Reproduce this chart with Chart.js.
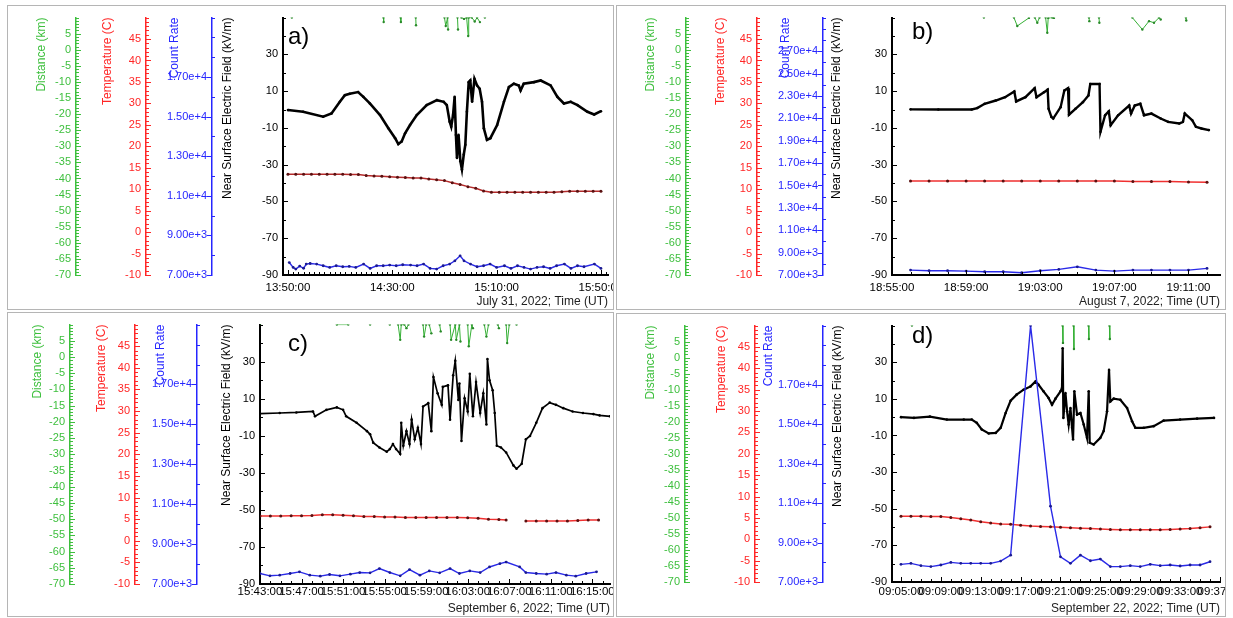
<!DOCTYPE html>
<html>
<head>
<meta charset="utf-8">
<script src="https://cdn.jsdelivr.net/npm/chart.js@4.4.1/dist/chart.umd.min.js"></script>
<style>
  html, body { margin: 0; padding: 0; background: #fff; }
  body { width: 1233px; height: 618px; position: relative; overflow: hidden; }
  .panel { position: absolute; box-sizing: border-box; border: 1px solid #b5b5b5; overflow: hidden; background: #fff; }
  .panel canvas { position: absolute; left: 0; top: 0; }
</style>
</head>
<body>
<div class="panel" style="left:7px;top:5px;width:607px;height:305px"><canvas id="chartA" width="640" height="303"></canvas></div>
<div class="panel" style="left:616px;top:5px;width:610px;height:305px"><canvas id="chartB" width="640" height="303"></canvas></div>
<div class="panel" style="left:7px;top:312px;width:607px;height:305px"><canvas id="chartC" width="640" height="303"></canvas></div>
<div class="panel" style="left:616px;top:313px;width:610px;height:304px"><canvas id="chartD" width="640" height="302"></canvas></div>
<script>
// --- time axes: start of each record, caption, tick positions (minutes after start) ---
const aStart = '13:50:00', bStart = '18:55:00', cStart = '15:43:00', dStart = '09:05:00';
const aDate = 'July 31, 2022; Time (UT)';
const bDate = 'August 7, 2022; Time (UT)';
const cDate = 'September 6, 2022; Time (UT)';
const dDate = 'September 22, 2022; Time (UT)';
const aXTicks = [0, 40, 80, 120];
const bXTicks = [0, 4, 8, 12, 16];
const cXTicks = [0, 4, 8, 12, 16, 20, 24, 28, 32];
const dXTicks = [0, 4, 8, 12, 16, 20, 24, 28, 32];

// --- labelled ticks of the four y axes ---
const fieldTicks = [-90, -70, -50, -30, -10, 10, 30];
const distTicks = [-70, -65, -60, -55, -50, -45, -40, -35, -30, -25, -20, -15, -10, -5, 0, 5];
const tempTicks = [-10, -5, 0, 5, 10, 15, 20, 25, 30, 35, 40, 45];
const countTicks = [7000, 9000, 11000, 13000, 15000, 17000];
const countTicksB = [7000, 9000, 11000, 13000, 15000, 17000, 19000, 21000, 23000, 25000, 27000];

// --- series: [minutes after start, value] ---
// a) July 31
const aField = [[0,-0.3],[5.8,-1.2],[13.5,-3.9],[16.7,-2.1],[19.9,4.2],[21.8,7.8],[23.7,8.6],[26.9,9.5],[28.9,6.9],[31.4,3.3],[35.3,-3],[38.5,-10.2],[41.1,-15.6],[42.3,-18.8],[43.6,-17.4],[44.9,-12.9],[46.8,-8.4],[49.4,-3],[53.2,2.4],[57.1,5.1],[59.7,4.2],[60.9,2.4],[62,-6.6],[62.6,-9.3],[63.3,-3],[63.9,6.9],[64.4,-13.8],[64.8,-26.3],[65.4,-13.8],[66.1,-28.1],[66.7,-32.6],[67.4,-24.5],[68,-19.2],[68.6,-1.2],[69.3,14.9],[69.9,15.8],[70.6,4.2],[71.5,16.7],[72.5,13.1],[73.5,11.3],[74.4,4.2],[75.1,-10.2],[76.3,-16.5],[77.6,-15.6],[80.2,-8.4],[82.8,4.2],[84.7,12.2],[86.6,14],[88.5,13.1],[89.2,10.4],[90.4,14],[94.3,14.9],[96.9,15.8],[100.7,13.1],[103.3,6.9],[105.8,3.3],[108.4,4.2],[111,2.4],[114.8,-1.2],[117.4,-2.7],[120,-0.9]];
const aTemp = [[0,13.5],[3,13.5],[6,13.5],[9,13.5],[12,13.5],[15,13.5],[18,13.5],[21,13.5],[24,13.4],[27,13.4],[30,13.2],[33,13.1],[36,13.0],[39,12.9],[42,12.8],[45,12.7],[48,12.6],[51,12.6],[54,12.4],[57,12.2],[60,12.0],[63,11.5],[66,11.1],[69,10.6],[72,10.2],[75,9.6],[78,9.3],[81,9.3],[84,9.3],[87,9.3],[90,9.3],[93,9.3],[96,9.3],[99,9.3],[102,9.3],[105,9.4],[108,9.5],[111,9.5],[114,9.5],[117,9.5],[120,9.5]];
const aCount = [[0.5,7630],[2,7383],[3,7300],[4.5,7450],[6,7340],[7,7550],[8.5,7580],[11,7550],[13.5,7467],[16,7383],[18.5,7467],[21,7417],[23.5,7433],[26,7383],[29,7550],[31.5,7333],[34,7467],[36.5,7467],[39,7500],[41.5,7467],[44,7517],[47,7500],[49.5,7467],[52,7550],[54.5,7333],[57,7300],[59.5,7467],[62,7550],[64,7717],[66,7967],[67.5,7717],[70,7550],[72.5,7417],[75,7467],[77.5,7550],[80,7383],[83,7467],[85.5,7333],[88,7467],[90.5,7383],[93,7300],[95.5,7383],[98,7417],[100.5,7333],[103,7467],[106,7550],[108.5,7333],[111,7467],[113.5,7417],[117.5,7550],[120,7333]];
const aDist = [[1.5,10],[1.6,null],[36.6,10],[36.7,8.6],[36.8,null],[43.2,10],[43.3,8.6],[43.4,null],[49.0,10],[49.1,7.6],[49.2,null],[60.0,10],[60.5,7.4],[61.2,10],[61.4,6.3],[61.5,null],[65.0,10],[65.2,6.3],[65.3,null],[66.5,10],[67.5,9.6],[68.5,10],[69.1,4.3],[69.3,10],[70.5,10],[71.6,8.8],[72.5,10],[73.6,8.6],[73.7,null],[75.5,10]];

// b) August 7
const bField = [[1.0,0.1],[2.5,0],[4.3,0],[4.6,0.8],[5.0,3.1],[5.6,4.9],[6.1,6.7],[6.6,9.8],[6.7,4.4],[7.2,6.7],[7.7,11.6],[7.8,6.7],[8.2,9.4],[8.4,10.8],[8.45,0.4],[8.6,-4],[8.7,-4.9],[9.1,1.3],[9.3,10.3],[9.5,11.6],[9.55,-2.8],[9.9,0.4],[10.3,4],[10.6,7.6],[10.7,13.9],[11.2,13.9],[11.25,-12.1],[11.5,-3.1],[11.7,-1],[11.8,-8.5],[12.2,-3.1],[12.8,2.2],[12.9,-2.2],[13.1,2.2],[13.4,3.1],[13.6,-3.1],[14.0,-2.2],[14.5,-4.9],[14.9,-6.7],[15.5,-7.6],[15.7,-6.7],[15.8,-2.2],[16.2,-5.8],[16.4,-9.4],[16.7,-10.3],[17.1,-11.2]];
const bTemp = [[1,11.9],[2,11.9],[3,11.9],[4,11.9],[5,11.9],[6,11.9],[7,11.9],[8,11.9],[9,11.9],[10,11.9],[11,11.9],[12,11.9],[13,11.8],[14,11.8],[15,11.8],[16,11.7],[17,11.6]];
const bCount = [[1,7440],[2,7380],[3,7380],[4,7350],[5,7290],[6,7290],[7,7200],[8,7380],[9,7500],[10,7730],[11,7440],[12,7350],[13,7440],[14,7440],[15,7440],[16,7440],[17,7590]];
const bDist = [[4.96,10],[5.0,null],[6.58,10],[6.76,7.4],[7.39,9.9],[7.4,null],[7.71,10],[7.84,8.4],[7.96,10],[8.0,null],[8.29,10],[8.38,5.3],[8.43,9.9],[8.65,10],[8.74,9.9],[8.8,null],[10.63,10],[10.65,8.9],[10.7,null],[11.17,10],[11.19,8.4],[11.2,null],[12.97,10],[13.51,6.3],[13.87,8.9],[14.14,8.4],[14.41,10],[14.5,9.4],[14.55,null],[15.86,10],[15.88,9.1]];

// c) September 6
const cField = [[0,1.9],[1.9,2.3],[3.5,2.6],[5.1,3.1],[5.3,0.5],[6.4,4.0],[7.4,5.3],[8.0,4.0],[8.3,0.5],[9.3,-3.0],[10.3,-7.5],[10.6,-9.2],[10.9,-13.7],[11.5,-16.3],[12.2,-18.6],[12.5,-17.2],[12.8,-14.5],[13.1,-17.2],[13.5,-19.8],[13.6,-3.0],[13.8,-15.4],[14.1,-7.5],[14.4,-14.5],[14.6,-1.3],[14.9,-11.9],[15.2,-5.7],[15.5,-14.5],[15.7,5.8],[16.2,7.6],[16.5,-7.5],[16.7,21.7],[17.1,12.9],[17.5,6.7],[17.6,16.4],[18.1,17.3],[18.3,-1.3],[18.6,22.6],[18.8,30.5],[19.1,9.3],[19.2,18.2],[19.4,-12.8],[19.7,10.2],[20.0,3.1],[20.2,23.5],[20.5,0.5],[20.8,19.0],[21.2,2.3],[21.5,12.9],[21.8,-3.9],[21.9,31.4],[22.1,19.9],[22.4,14.6],[22.6,2.3],[22.8,-15.4],[23.2,-16.3],[23.7,-19.0],[24.4,-26.0],[24.7,-27.8],[25.2,-25.1],[25.6,-11.9],[26.0,-10.1],[26.6,-3.0],[27.2,4.9],[27.9,7.9],[28.5,6.7],[29.2,4.9],[30.1,3.1],[31.1,2.3],[32.1,1.7],[32.7,1.0],[33.7,0.5]];
const cTemp = [[0,5.75],[1,5.75],[2,5.75],[3,5.8],[4,5.8],[5,5.85],[6,6.0],[7,6.0],[8,5.9],[9,5.8],[10,5.6],[11,5.6],[12,5.5],[13,5.5],[14,5.4],[15,5.4],[16,5.4],[17,5.4],[18,5.4],[19,5.4],[20,5.3],[21,5.2],[22,5.0],[23,4.9],[23.7,4.8],[24.5,null],[25.6,4.6],[26.6,4.6],[27.6,4.6],[28.6,4.6],[29.6,4.6],[30.6,4.7],[31.6,4.8],[32.6,4.8]];
const cCount = [[0,7525],[0.96,7410],[1.9,7443],[2.9,7525],[3.8,7608],[4.8,7443],[5.8,7394],[6.7,7476],[7.7,7410],[8.7,7493],[9.6,7575],[10.6,7558],[11.5,7772],[12.5,7575],[13.5,7410],[14.4,7723],[15.4,7443],[16.3,7657],[17.3,7558],[18.3,7772],[19.2,7525],[20.2,7657],[21.2,7575],[22.1,7854],[23.1,8018],[23.7,8100],[25.0,7854],[25.6,7575],[26.6,7525],[27.6,7493],[28.5,7575],[29.5,7443],[30.4,7394],[31.4,7525],[32.4,7608]];
const cDist = [[0,10],[0.1,null],[7.4,10],[8.5,10],[8.6,null],[10.6,10],[10.7,null],[12.5,10],[12.6,null],[13.3,10],[13.5,5.3],[13.6,10],[13.9,10],[14.1,8.9],[14.3,10],[14.4,null],[15.7,10],[15.8,6.3],[16.0,10],[16.1,null],[16.3,10],[16.5,7.3],[16.6,null],[17.3,10],[17.4,7.9],[17.5,null],[18.3,10],[18.4,5.3],[18.8,10],[18.9,5.3],[19.2,10],[19.3,4.8],[19.4,null],[20.0,10],[20.1,3.3],[20.4,10],[20.5,8.9],[20.6,null],[21.6,10],[21.8,6.3],[22.0,10],[22.1,null],[22.9,10],[23.0,8.9],[23.1,null],[23.7,10],[23.8,4.3],[24.0,10],[24.1,null],[24.7,10]];

// d) September 22
const dField = [[0,0],[1.3,-0.4],[2.9,0.3],[4.6,-1.3],[6.3,-1.3],[7.1,-1.3],[7.6,-3.1],[8.1,-6.7],[8.8,-8.9],[9.5,-8.6],[10.0,-5.8],[10.5,2.3],[11.0,9.0],[11.6,12.3],[12.3,15.0],[13.0,16.8],[13.5,19.5],[13.8,17.7],[14.3,14.1],[14.8,10.5],[15.15,6.8],[15.5,10.1],[16.0,14.1],[16.15,15.9],[16.22,37.6],[16.29,-0.4],[16.5,13.2],[16.66,3.2],[16.82,-4.0],[17.0,5.0],[17.16,-5.8],[17.26,-12.2],[17.39,14.1],[17.66,1.4],[18.0,2.3],[18.33,-4.0],[18.66,-11.3],[18.83,14.1],[18.93,-14.0],[19.33,-14.9],[20.0,-11.3],[20.33,-7.6],[20.67,3.2],[20.87,25.8],[21.0,8.6],[21.34,10.1],[22.0,9.5],[22.68,5.0],[23.18,-2.2],[23.51,-5.8],[24.35,-5.8],[25.35,-4.9],[26.35,-1.9],[28.0,-1.3],[29.7,-0.8],[31.4,-0.4]];
const dTemp = [[0,5.4],[1,5.4],[2,5.4],[3,5.3],[4,5.3],[5,5.1],[6,4.8],[7,4.5],[8,4.1],[9,3.8],[10,3.6],[11,3.5],[12,3.3],[13,3.1],[14,3.0],[15,2.9],[16,2.8],[17,2.7],[18,2.6],[19,2.5],[20,2.4],[21,2.3],[22,2.2],[23,2.2],[24,2.2],[25,2.2],[26,2.2],[27,2.3],[28,2.4],[29,2.5],[30,2.7],[31,2.9]];
const dCount = [[0,7896],[1,7945],[2,7829],[3,7780],[4,7862],[5,7995],[6,7945],[7,7945],[8,7945],[9,7945],[10,8061],[11,8360],[13,20000],[15,10846],[16,8277],[17,7945],[18,8360],[19,8078],[20,8161],[21,7780],[22,7780],[23,7829],[24,7780],[25,7896],[26,7829],[27,7862],[28,7812],[29,7862],[30,7862],[31,8028]];
const dDist = [[1.1,10],[1.2,null],[16.2,10],[16.25,4.6],[16.3,null],[17.3,10],[17.35,2.7],[17.4,null],[18.8,10],[18.85,5.8],[18.9,null],[20.9,10],[20.95,5.8]];

// --- colours ---
const GREEN = '#3dbf3d', RED = '#ff2626', BLUE = '#2626ff';

// --- layout per panel (axis box widths, title offsets, paddings) ---
const panels = [
    { canvas: 'chartA', tag: 'a)', start: aStart, date: aDate, xTicks: aXTicks, xMin: -1.9, xMax: 122.7, xMinor: 2,
      field: aField, temp: aTemp, count: aCount, dist: aDist, countMax: 20000, countTicks: countTicks,
      widths: [68, 70, 66, 71], titles: [34, 32, 29, 16], padTop: 8, padRight: 40, xHeight: 34, xPad: 6,
      tagAt: [5, 20], fieldLine: 2.6, tempColor: '#b42a2a' },
    { canvas: 'chartB', tag: 'b)', start: bStart, date: bDate, xTicks: bXTicks, xMin: 0, xMax: 17.7, xMinor: 1,
      field: bField, temp: bTemp, count: bCount, dist: bDist, countMax: 30000, countTicks: countTicksB,
      widths: [69, 71, 66, 69], titles: [34, 35, 29, 14], padTop: 8, padRight: 37, xHeight: 34, xPad: 6,
      tagAt: [20, 15], fieldLine: 2.4, tempColor: '#f03030' },
    { canvas: 'chartC', tag: 'c)', start: cStart, date: cDate, xTicks: cXTicks, xMin: 0, xMax: 33.7, xMinor: 1,
      field: cField, temp: cTemp, count: cCount, dist: cDist, countMax: 20000, countTicks: countTicks,
      widths: [62, 65, 62, 63], titles: [30, 32, 26, 30], padTop: 7, padRight: 38, xHeight: 32, xPad: 1,
      tagAt: [28, 20], fieldLine: 1.7, tempColor: '#f03030' },
    { canvas: 'chartD', tag: 'd)', start: dStart, date: dDate, xTicks: dXTicks, xMin: -0.9, xMax: 32, xMinor: 1,
      field: dField, temp: dTemp, count: dCount, dist: dDist, countMax: 20000, countTicks: countTicks,
      widths: [68, 70, 68, 69], titles: [34, 37, 14, 15], padTop: 9, padRight: 37, xHeight: 34, xPad: 3,
      tagAt: [20, 11], fieldLine: 2.2, tempColor: '#f03030' }
];

Chart.defaults.font.family = '"Liberation Sans", Arial, sans-serif';

function clock(start, t) {
    const [h, m, s] = start.split(':').map(Number);
    const sec = Math.round(h * 3600 + m * 60 + s + t * 60);
    const p = n => String(n).padStart(2, '0');
    return p(Math.floor(sec / 3600)) + ':' + p(Math.floor(sec / 60) % 60) + ':' + p(sec % 60);
}

// short tick marks drawn on the right of every axis line (major = labelled)
const tickMarks = {
    id: 'tickMarks',
    afterDraw(chart, args, opts) {
        const ctx = chart.ctx;
        ctx.save();
        Object.values(chart.scales).forEach(s => {
            const step = opts.minor[s.id];
            if (!step) return;
            const major = s.ticks.map(t => t.value);
            ctx.strokeStyle = s.options.border.color;
            ctx.lineWidth = 1;
            for (let v = Math.ceil(s.min / step) * step; v <= s.max + step * 1e-6; v += step) {
                const isMajor = major.some(m => Math.abs(m - v) < step / 2);
                const len = isMajor ? 5 : 3;
                const px = Math.round(s.getPixelForValue(v)) + 0.5;
                ctx.beginPath();
                if (s.isHorizontal()) {
                    ctx.moveTo(px, s.top); ctx.lineTo(px, s.top - len);
                } else if (isMajor && opts.leftMajor.includes(s.id)) {
                    ctx.moveTo(s.right, px); ctx.lineTo(s.right - len, px);
                } else {
                    ctx.moveTo(s.right, px); ctx.lineTo(s.right + len, px);
                }
                ctx.stroke();
            }
        });
        ctx.restore();
    }
};

// the a) b) c) d) marks inside the plots
const panelTag = {
    id: 'panelTag',
    afterDraw(chart, args, opts) {
        const { ctx, chartArea } = chart;
        ctx.save();
        ctx.font = '24px "Liberation Sans", Arial, sans-serif';
        ctx.fillStyle = '#000';
        ctx.textBaseline = 'middle';
        ctx.fillText(opts.text, chartArea.left + opts.dx, chartArea.top + opts.dy);
        ctx.restore();
    }
};

function yAxis(color, text, width, titleOffset, min, max, tickList, weight, fmt, lineW) {
    return {
        type: 'linear', position: 'left', weight: weight, min: min, max: max,
        afterFit: s => { s.width = width; },
        afterBuildTicks: s => { s.ticks = tickList.map(v => ({ value: v })); },
        grid: { display: false, drawTicks: false },
        border: { display: true, color: color, width: lineW || 1.5 },
        ticks: { color: color, padding: 5, autoSkip: false, font: { size: 11 }, callback: fmt || (v => String(v)) },
        title: { display: true, text: text, color: color, align: 'end', font: { size: 12 },
                 padding: { top: titleOffset - 7.2, bottom: 0 } }
    };
}

panels.forEach(p => {
    new Chart(document.getElementById(p.canvas), {
        type: 'line',
        data: {
            datasets: [
                { label: 'Count Rate', data: p.count, yAxisID: 'count', borderColor: '#2a2ae8', borderWidth: 1.4,
                  pointRadius: 1.4, pointBackgroundColor: '#1a1a90', pointBorderWidth: 0, order: 0 },
                { label: 'Near Surface Electric Field', data: p.field, yAxisID: 'field', borderColor: '#000', borderWidth: p.fieldLine,
                  pointRadius: 1.3, pointBackgroundColor: '#000', pointBorderWidth: 0, order: 1 },
                { label: 'Temperature', data: p.temp, yAxisID: 'temp', borderColor: p.tempColor, borderWidth: 1.5,
                  pointRadius: 1.5, pointBackgroundColor: '#5a1010', pointBorderWidth: 0, order: 2 },
                { label: 'Distance', data: p.dist, yAxisID: 'dist', borderColor: '#35b035', borderWidth: 1,
                  pointRadius: 1.2, pointBackgroundColor: '#2a8a2a', pointBorderWidth: 0, order: 3 }
            ]
        },
        options: {
            responsive: false,
            animation: false,
            events: [],
            spanGaps: false,
            layout: { padding: { left: 0, top: p.padTop, right: p.padRight, bottom: 0 } },
            plugins: {
                legend: { display: false },
                tooltip: { enabled: false },
                tickMarks: { minor: { x: p.xMinor, field: 10, dist: 1, temp: 1, count: 1000 }, leftMajor: ['count'] },
                panelTag: { text: p.tag, dx: p.tagAt[0], dy: p.tagAt[1] }
            },
            scales: {
                x: {
                    type: 'linear', position: 'bottom', min: p.xMin, max: p.xMax,
                    afterFit: s => { s.height = p.xHeight; },
                    afterBuildTicks: s => { s.ticks = p.xTicks.map(v => ({ value: v })); },
                    grid: { display: false, drawTicks: false },
                    border: { display: true, color: '#000', width: 2 },
                    ticks: { color: '#000', padding: p.xPad, autoSkip: false, maxRotation: 0, minRotation: 0,
                             font: { size: 11.5 }, callback: v => clock(p.start, v) },
                    title: { display: true, text: p.date, align: 'end', color: '#222', font: { size: 12 },
                             padding: { top: 0, bottom: 0 } }
                },
                dist: yAxis(GREEN, 'Distance (km)', p.widths[0], p.titles[0], -70, 10, distTicks, 4),
                temp: yAxis(RED, 'Temperature (C)', p.widths[1], p.titles[1], -10, 50, tempTicks, 3),
                count: yAxis(BLUE, 'Count Rate', p.widths[2], p.titles[2], 7000, p.countMax, p.countTicks, 2,
                             v => v.toExponential(2)),
                field: Object.assign(yAxis('#000', 'Near Surface Electric Field (kV/m)', p.widths[3], p.titles[3], -90, 50, fieldTicks, 1, null, 2),
                                     {})
            }
        },
        plugins: [tickMarks, panelTag]
    });
});
</script>
</body>
</html>
